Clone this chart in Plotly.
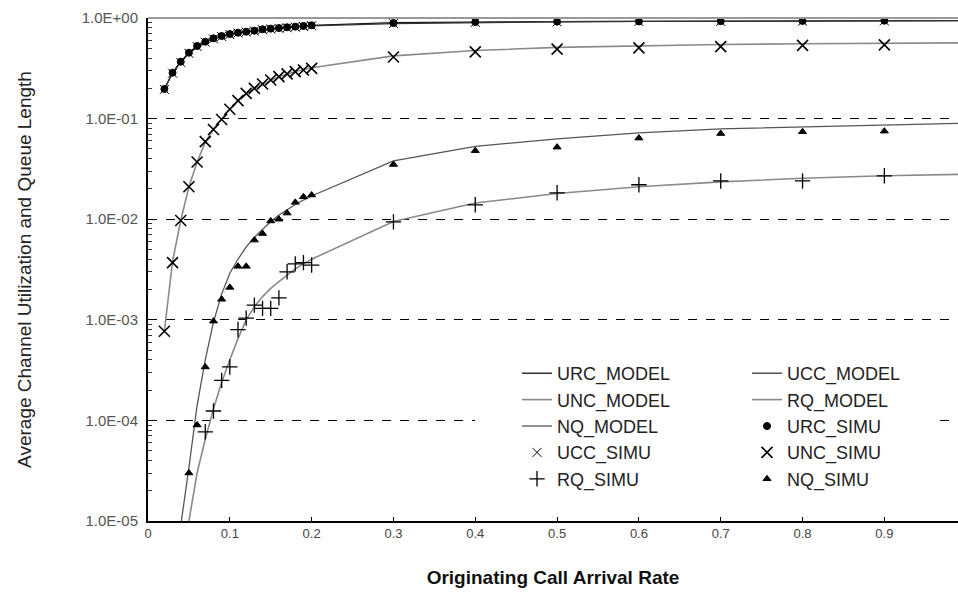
import plotly.graph_objects as go

# ---------------- data ----------------
x_fine = [0.02, 0.03, 0.04, 0.05, 0.06, 0.07, 0.08, 0.09, 0.10, 0.11,
          0.12, 0.13, 0.14, 0.15, 0.16, 0.17, 0.18, 0.19, 0.20]
x_coarse = [0.3, 0.4, 0.5, 0.6, 0.7, 0.8, 0.9, 1.0]
x_all = x_fine + x_coarse

# model curves
urc_model = [0.197, 0.286, 0.368, 0.452, 0.527, 0.581, 0.628, 0.662, 0.693, 0.715,
             0.731, 0.748, 0.772, 0.784, 0.795, 0.808, 0.820, 0.833, 0.846,
             0.900, 0.915, 0.922, 0.927, 0.931, 0.935, 0.938, 0.940]
ucc_model = [0.195, 0.283, 0.365, 0.448, 0.522, 0.576, 0.622, 0.656, 0.686, 0.708,
             0.724, 0.741, 0.764, 0.776, 0.787, 0.800, 0.812, 0.824, 0.836,
             0.880, 0.905, 0.918, 0.925, 0.930, 0.934, 0.937, 0.940]
unc_model = [7.7e-4, 3.8e-3, 0.0097, 0.021, 0.037, 0.058, 0.079, 0.100, 0.125, 0.150,
             0.175, 0.198, 0.220, 0.240, 0.260, 0.278, 0.294, 0.308, 0.320,
             0.420, 0.475, 0.510, 0.530, 0.545, 0.555, 0.562, 0.567]
x_q = [0.03, 0.04, 0.05, 0.06, 0.07, 0.08, 0.09, 0.10, 0.11, 0.12, 0.13, 0.14,
       0.15, 0.16, 0.17, 0.18, 0.19, 0.20, 0.3, 0.4, 0.5, 0.6, 0.7, 0.8, 0.9, 1.0]
nq_model = [1.0e-6, 9.0e-6, 3.4e-5, 1.4e-4, 4.0e-4, 9.5e-4, 1.8e-3, 2.9e-3, 4.0e-3,
            5.3e-3, 6.6e-3, 8.0e-3, 9.5e-3, 1.1e-2, 1.25e-2, 1.4e-2, 1.55e-2, 1.7e-2,
            0.038, 0.053, 0.063, 0.072, 0.079, 0.083, 0.086, 0.090]
rq_model = [1.0e-7, 1.0e-6, 1.0e-5, 3.0e-5, 6.5e-5, 1.3e-4, 2.4e-4, 4.0e-4, 6.5e-4,
            1.0e-3, 1.35e-3, 1.7e-3, 2.05e-3, 2.4e-3, 2.8e-3, 3.2e-3, 3.6e-3, 4.0e-3,
            0.0095, 0.0145, 0.018, 0.021, 0.0235, 0.0255, 0.027, 0.028]

# simulation points
x_sim = [0.02, 0.03, 0.04, 0.05, 0.06, 0.07, 0.08, 0.09, 0.10, 0.11,
         0.12, 0.13, 0.14, 0.15, 0.16, 0.17, 0.18, 0.19, 0.20,
         0.3, 0.4, 0.5, 0.6, 0.7, 0.8, 0.9]
urc_simu = [0.197, 0.286, 0.368, 0.452, 0.527, 0.581, 0.628, 0.662, 0.693, 0.715,
            0.731, 0.748, 0.772, 0.784, 0.795, 0.808, 0.820, 0.833, 0.846,
            0.89, 0.91, 0.92, 0.925, 0.93, 0.935, 0.94]
ucc_simu = [0.195, 0.283, 0.362, 0.445, 0.52, 0.575, 0.62, 0.655, 0.685, 0.708,
            0.725, 0.742, 0.765, 0.778, 0.79, 0.80, 0.812, 0.825, 0.838,
            0.88, 0.905, 0.915, 0.92, 0.925, 0.93, 0.935]
unc_simu = [7.7e-4, 3.7e-3, 0.0097, 0.021, 0.037, 0.059, 0.078, 0.098, 0.124, 0.151,
            0.178, 0.200, 0.221, 0.242, 0.261, 0.278, 0.293, 0.304, 0.316,
            0.41, 0.46, 0.49, 0.505, 0.52, 0.535, 0.54]
x_nq_sim = [0.05, 0.06, 0.07, 0.08, 0.09, 0.10, 0.11, 0.12, 0.13, 0.14, 0.15,
            0.16, 0.17, 0.18, 0.19, 0.20, 0.3, 0.4, 0.5, 0.6, 0.7, 0.8, 0.9]
nq_simu = [3.0e-5, 9.0e-5, 3.4e-4, 9.7e-4, 1.6e-3, 2.1e-3, 3.4e-3, 3.4e-3, 6.2e-3,
           7.2e-3, 9.6e-3, 1.0e-2, 1.15e-2, 1.47e-2, 1.67e-2, 1.74e-2,
           0.035, 0.048, 0.052, 0.064, 0.071, 0.074, 0.075]
x_rq_sim = [0.07, 0.08, 0.09, 0.10, 0.11, 0.12, 0.13, 0.14, 0.15, 0.16,
            0.17, 0.18, 0.19, 0.20, 0.3, 0.4, 0.5, 0.6, 0.7, 0.8, 0.9]
rq_simu = [7.7e-5, 1.24e-4, 2.5e-4, 3.4e-4, 8.0e-4, 1.04e-3, 1.4e-3, 1.3e-3, 1.3e-3,
           1.65e-3, 3.0e-3, 3.6e-3, 3.7e-3, 3.5e-3,
           0.0094, 0.0139, 0.0183, 0.022, 0.024, 0.024, 0.027]

y_tickvals = [1, 1e-1, 1e-2, 1e-3, 1e-4, 1e-5]
y_ticktext = ["1.0E+00", "1.0E-01", "1.0E-02", "1.0E-03", "1.0E-04", "1.0E-05"]
x_tickvals = [0, 0.1, 0.2, 0.3, 0.4, 0.5, 0.6, 0.7, 0.8, 0.9]
x_ticktext = ["0", "0.1", "0.2", "0.3", "0.4", "0.5", "0.6", "0.7", "0.8", "0.9"]
minor_vals = [m * 10 ** e for e in range(-5, 0) for m in range(2, 10)]

# ---------------- figure ----------------
fig = go.Figure()

def line(name, x, y, color, width, leg):
    fig.add_trace(go.Scatter(x=x, y=y, name=name, mode="lines", legend=leg,
                             line=dict(color=color, width=width)))

def pts(name, x, y, symbol, size, leg, lw=1.0, color="black"):
    fig.add_trace(go.Scatter(x=x, y=y, name=name, mode="markers", legend=leg,
                             marker=dict(symbol=symbol, size=size, color=color,
                                         line=dict(color=color, width=lw))))

line("URC_MODEL", x_all, urc_model, "#111111", 1.3, "legend")
line("UCC_MODEL", x_all, ucc_model, "#333333", 1.3, "legend2")
line("UNC_MODEL", x_all, unc_model, "#8a8a8a", 1.6, "legend")
line("RQ_MODEL", x_q, rq_model, "#8a8a8a", 1.6, "legend2")
line("NQ_MODEL", x_q, nq_model, "#555555", 1.3, "legend")
pts("URC_SIMU", x_sim, urc_simu, "circle", 7, "legend2")
pts("UCC_SIMU", x_sim, ucc_simu, "x-thin", 9, "legend", lw=1.0)
pts("UNC_SIMU", x_sim, unc_simu, "x-thin", 11, "legend2", lw=1.6)
pts("RQ_SIMU", x_rq_sim, rq_simu, "cross-thin", 11, "legend", lw=1.3)
pts("NQ_SIMU", x_nq_sim, nq_simu, "triangle-up", 7, "legend2")

W, H = 958, 597
L, R, T, B = 148, 0, 18, 76
pw, ph = W - L - R, H - T - B

def px2paper_x(p):
    return (p - L) / pw

def px2paper_y(p):
    return (H - B - p) / ph

leg_common = dict(
    orientation="v", xanchor="left", yanchor="top",
    bgcolor="rgba(0,0,0,0)", borderwidth=0,
    font=dict(size=18, color="#222222"),
    itemclick=False, tracegroupgap=0,
)

fig.update_layout(
    width=W, height=H,
    margin=dict(l=L, r=R, t=T, b=B, autoexpand=False),
    paper_bgcolor="white", plot_bgcolor="white",
    font=dict(family="Liberation Sans, Arial, sans-serif", color="#222222"),
    showlegend=True,
    legend=dict(x=px2paper_x(517), y=px2paper_y(355), **leg_common),
    legend2=dict(x=px2paper_x(747), y=px2paper_y(355), **leg_common),
    shapes=[
        dict(type="rect", xref="paper", yref="paper",
             x0=px2paper_x(475), x1=px2paper_x(940),
             y0=px2paper_y(494), y1=px2paper_y(356),
             fillcolor="white", line=dict(width=0), layer="above"),
        dict(type="line", xref="paper", yref="paper", x0=0, x1=1, y0=1, y1=1,
             line=dict(color="#999999", width=2), layer="above"),
    ],
)

fig.update_xaxes(
    range=[0, 0.99], tickvals=x_tickvals, ticktext=x_ticktext,
    showgrid=False, zeroline=False,
    showline=True, linecolor="black", linewidth=1.5,
    ticks="inside", ticklen=4, tickcolor="black",
    tickfont=dict(size=13, color="#444444"),
    title=dict(text="<b>Originating Call Arrival Rate</b>",
               font=dict(size=19, color="#111111"), standoff=30),
)
fig.update_yaxes(
    type="log", range=[-5, 0], tickvals=y_tickvals, ticktext=y_ticktext,
    showgrid=True, gridcolor="black", gridwidth=1, griddash="dash",
    zeroline=False,
    showline=True, linecolor="black", linewidth=2,
    ticks="inside", ticklen=7, tickcolor="black",
    minor=dict(tickvals=minor_vals, ticks="inside", ticklen=4,
               tickcolor="#333333", showgrid=False),
    tickfont=dict(size=15, color="#555555"),
    ticklabelstandoff=5,
    title=dict(text="Average Channel Utilization and Queue Length",
               font=dict(size=19, color="#222222"), standoff=45),
)

fig.write_html("out.html")
